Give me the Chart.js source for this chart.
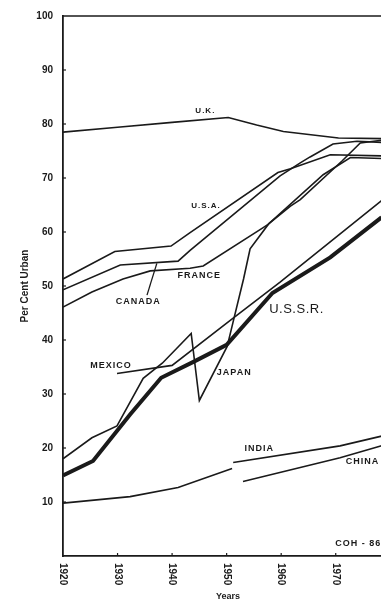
<!DOCTYPE html>
<html>
<head>
<meta charset="utf-8">
<script src="https://cdn.jsdelivr.net/npm/chart.js@4.4.1/dist/chart.umd.min.js"></script>
<style>
  html, body { margin: 0; padding: 0; background: #fff; overflow: hidden; width: 381px; height: 601px; }
  #wrap { width: 393px; height: 601px; }
  canvas { display: block; }
</style>
</head>
<body>
<div id="wrap"><canvas id="c" width="393" height="601"></canvas></div>
<script>
// Urban population as a share of the total (per cent), by country
const ukYears      = [1920, 1930, 1940, 1950.3, 1955.5, 1960.4, 1970.5, 1978.4];
const ukPct        = [78.5, 79.4, 80.3, 81.2, 79.8, 78.6, 77.4, 77.3];

const usaYears     = [1920, 1929.5, 1939.8, 1943.3, 1959.4, 1961.7, 1969.0, 1978.4];
const usaPct       = [51.3, 56.4, 57.4, 59.9, 71.0, 71.7, 74.3, 74.1];

const canadaYears  = [1920, 1930.5, 1941.1, 1943.3, 1959.8, 1963.5, 1965.3, 1969.5, 1973.9, 1978.4];
const canadaPct    = [49.3, 53.9, 54.6, 56.6, 70.4, 72.8, 73.9, 76.3, 76.8, 76.6];

const franceYears  = [1920, 1925.3, 1931.0, 1936.0, 1943.3, 1945.7, 1956.7, 1957.6, 1967.7, 1972.7, 1978.4];
const francePct    = [46.1, 48.9, 51.3, 52.8, 53.3, 53.7, 60.8, 61.4, 70.6, 73.8, 73.6];

const japanYears   = [1920, 1925.3, 1929.9, 1934.7, 1938.2, 1943.5, 1945.0, 1950.1, 1951.2, 1953.1, 1954.3, 1957.7, 1961.7, 1963.5, 1971.2, 1974.5, 1978.4];
const japanPct     = [18.0, 21.9, 24.1, 32.9, 35.7, 41.2, 28.8, 38.8, 43.4, 51.3, 56.9, 61.5, 64.8, 66.0, 73.2, 76.5, 77.0];

const ussrYears    = [1920, 1925.5, 1932.3, 1938.0, 1944.0, 1950.0, 1958.4, 1969.0, 1978.4];
const ussrPct      = [14.9, 17.6, 26.2, 33.0, 36.0, 39.1, 48.7, 55.3, 62.7];

const mexicoYears  = [1929.9, 1940.0, 1950.6, 1959.8, 1978.4];
const mexicoPct    = [33.8, 35.3, 43.6, 50.7, 65.8];

// India's record breaks at 1951 (null keeps the two pieces apart)
const indiaYears   = [1920, 1932.3, 1941.1, 1951.0, 1951.1, 1951.2, 1970.8, 1978.4];
const indiaPct     = [9.8, 11.0, 12.7, 16.2, null, 17.3, 20.4, 22.2];

const chinaYears   = [1953.0, 1970.8, 1978.4];
const chinaPct     = [13.8, 18.2, 20.4];

// Axis tick labels
const yearTicks = [1920, 1930, 1940, 1950, 1960, 1970];
const pctTicks  = [10, 20, 30, 40, 50, 60, 70, 80, 90, 100];

const INK  = '#1a1a1a';
const FONT = '"Liberation Sans", Arial, sans-serif';

const series = [
  { name: 'U.K.',     years: ukYears,     values: ukPct },
  { name: 'U.S.A.',   years: usaYears,    values: usaPct },
  { name: 'CANADA',   years: canadaYears, values: canadaPct },
  { name: 'FRANCE',   years: franceYears, values: francePct },
  { name: 'JAPAN',    years: japanYears,  values: japanPct },
  { name: 'MEXICO',   years: mexicoYears, values: mexicoPct },
  { name: 'INDIA',    years: indiaYears,  values: indiaPct },
  { name: 'CHINA',    years: chinaYears,  values: chinaPct },
  { name: 'U.S.S.R.', years: ussrYears,   values: ussrPct, heavy: true }
];

const toPoints = (xs, ys) => xs.map((x, i) => ({ x, y: ys[i] }));

// Where each country's name sits (year, per cent) and how it is set
const notes = [
  { text: 'U.K.',     at: [1946.1, 82.4], font: 'bold 8px ' + FONT, spacing: '1px' },
  { text: 'U.S.A.',   at: [1946.2, 64.9], font: 'bold 8px ' + FONT, spacing: '1px' },
  { text: 'FRANCE',   at: [1945.0, 52.0], font: 'bold 9px ' + FONT, spacing: '1px' },
  { text: 'CANADA',   at: [1933.8, 47.2], font: 'bold 9px ' + FONT, spacing: '1px' },
  { text: 'MEXICO',   at: [1928.8, 35.3], font: 'bold 9px ' + FONT, spacing: '1px' },
  { text: 'JAPAN',    at: [1951.4, 34.0], font: 'bold 9px ' + FONT, spacing: '1px' },
  { text: 'U.S.S.R.', at: [1962.8, 45.6], font: '13px ' + FONT,      spacing: '0.5px' },
  { text: 'INDIA',    at: [1956.0, 19.9], font: 'bold 9px ' + FONT, spacing: '1px' },
  { text: 'CHINA',    at: [1974.9, 17.5], font: 'bold 9px ' + FONT, spacing: '1px' }
];
const canadaLeader = [[1935.4, 48.3], [1937.2, 54.2]];
const sourceTag = { text: 'COH - 86', at: [1969.9, 2.4] };

const annotate = {
  id: 'annotate',
  afterDraw(chart) {
    const { ctx, chartArea: a, scales: { x, y } } = chart;
    ctx.save();
    ctx.strokeStyle = INK;
    ctx.fillStyle = INK;

    // top edge of the frame
    ctx.lineWidth = 1.6;
    ctx.beginPath();
    ctx.moveTo(a.left, a.top);
    ctx.lineTo(a.right, a.top);
    ctx.stroke();

    // short inward tick marks
    ctx.lineWidth = 1.2;
    pctTicks.forEach(v => {
      if (v >= 100) return;
      const py = y.getPixelForValue(v);
      ctx.beginPath(); ctx.moveTo(a.left, py); ctx.lineTo(a.left + 3, py); ctx.stroke();
    });
    yearTicks.forEach(v => {
      if (v <= 1920) return;
      const px = x.getPixelForValue(v);
      ctx.beginPath(); ctx.moveTo(px, a.bottom); ctx.lineTo(px, a.bottom - 3); ctx.stroke();
    });

    // year labels, turned to read downward
    ctx.font = 'bold 10px ' + FONT;
    ctx.textAlign = 'left';
    ctx.textBaseline = 'middle';
    yearTicks.forEach(v => {
      const px = x.getPixelForValue(v);
      ctx.save();
      ctx.translate(px, a.bottom + 7);
      ctx.rotate(Math.PI / 2);
      ctx.fillText(String(v), 0, 0);
      ctx.restore();
    });

    // country names
    ctx.textAlign = 'center';
    notes.forEach(n => {
      ctx.font = n.font;
      ctx.letterSpacing = n.spacing;
      ctx.fillText(n.text, x.getPixelForValue(n.at[0]), y.getPixelForValue(n.at[1]));
    });

    // leader from the CANADA label to its line
    ctx.lineWidth = 1.3;
    ctx.beginPath();
    ctx.moveTo(x.getPixelForValue(canadaLeader[0][0]), y.getPixelForValue(canadaLeader[0][1]));
    ctx.lineTo(x.getPixelForValue(canadaLeader[1][0]), y.getPixelForValue(canadaLeader[1][1]));
    ctx.stroke();

    // drawing reference tag
    ctx.font = 'bold 9px ' + FONT;
    ctx.letterSpacing = '1px';
    ctx.textAlign = 'left';
    ctx.fillText(sourceTag.text, x.getPixelForValue(sourceTag.at[0]), y.getPixelForValue(sourceTag.at[1]));
    ctx.restore();
  }
};

new Chart(document.getElementById('c'), {
  type: 'line',
  data: {
    datasets: series.map(s => ({
      label: s.name,
      data: toPoints(s.years, s.values),
      borderColor: INK,
      borderWidth: s.heavy ? 4 : 1.6,
      pointRadius: 0,
      tension: 0,
      fill: false,
      spanGaps: false
    }))
  },
  options: {
    responsive: false,
    animation: false,
    devicePixelRatio: 1,
    layout: { padding: { top: 12, left: 0, right: 0, bottom: 0 } },
    plugins: { legend: { display: false }, tooltip: { enabled: false } },
    scales: {
      x: {
        type: 'linear',
        min: 1920,
        max: 1980.5,
        afterFit(s) { s.height = 45; },
        grid: { display: false, drawTicks: false },
        border: { display: true, color: INK, width: 1.8 },
        ticks: { display: false, stepSize: 10, includeBounds: false },
        title: {
          display: true, text: 'Years', color: INK,
          font: { family: FONT, size: 9, weight: 'bold', lineHeight: 1 },
          padding: { top: 0, bottom: 0 }
        }
      },
      y: {
        min: 0,
        max: 100,
        afterFit(s) { s.width = 63; },
        grid: { display: false, drawTicks: false },
        border: { display: true, color: INK, width: 1.8 },
        ticks: {
          stepSize: 10, padding: 10, color: INK,
          font: { family: FONT, size: 10, weight: 'bold' },
          callback: v => pctTicks.includes(v) ? String(v) : ''
        },
        title: {
          display: true, text: 'Per Cent Urban', color: INK,
          font: { family: FONT, size: 10, weight: 'bold', lineHeight: 1.2 },
          padding: { top: 19, bottom: 0 }
        }
      }
    }
  },
  plugins: [annotate]
});
</script>
</body>
</html>
